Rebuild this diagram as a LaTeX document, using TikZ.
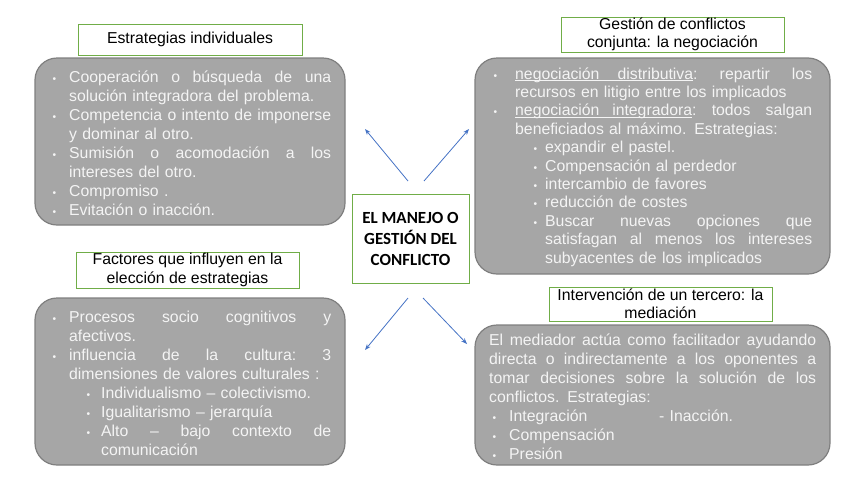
\documentclass[tikz,border=0pt]{standalone}
\usepackage{fontspec}
\setmainfont{Liberation Sans}
\newfontfamily\carl{Carlito}
\usepackage{graphicx}
\usetikzlibrary{arrows.meta}
\definecolor{boxgray}{HTML}{A6A6A6}
\definecolor{boxedge}{HTML}{7F7F7F}
\definecolor{txtlight}{HTML}{F4F4F4}
\definecolor{tgreen}{HTML}{70AD47}
\definecolor{arrowblue}{HTML}{4472C4}
\newcommand\bu[1]{\leavevmode\llap{\scalebox{0.65}{•}\hspace{#1}}}
\newcommand\jl[2]{\makebox[#1][l]{#2}}
\newcommand\ujl[2]{\rlap{\rule[-2.2pt]{#1}{0.8pt}}\makebox[#1][l]{#2}}
\begin{document}
\begin{tikzpicture}[x=1pt,y=-1pt,
 graybox/.style={draw=boxedge, fill=boxgray, line width=1.2pt, rounded corners=22pt, inner sep=0pt},
 titlebox/.style={draw=tgreen, line width=1pt, fill=white, inner sep=0pt, align=center, font=\fontsize{15.8}{18.5}\selectfont},
 bodytext/.style={text=txtlight, inner sep=0pt, anchor=base west, align=left, font=\fontsize{15.8}{19}\selectfont},
 centerbox/.style={draw=tgreen, line width=1pt, fill=white, inner sep=0pt, align=center, font=\carl\bfseries\fontsize{17}{21}\selectfont},
 arr/.style={draw=arrowblue, line width=0.8pt, -{Stealth[length=6pt,width=4.5pt]}}]
\useasboundingbox (0,0) rectangle (848,477);

% gray boxes
\node[graybox, minimum width=310pt, minimum height=167pt] (b1) at (190,141.5) {};
\node[graybox, minimum width=355pt, minimum height=216pt] (b2) at (652.5,166) {};
\node[graybox, minimum width=310pt, minimum height=167pt] (b3) at (190,381.5) {};
\node[graybox, minimum width=355pt, minimum height=140pt] (b4) at (652.5,395) {};

% title boxes
\node[titlebox, minimum width=224pt, minimum height=31pt] (t1) at (190,39.5) {Estrategias individuales};
\node[titlebox, minimum width=223pt, minimum height=35pt] (t2) at (672.5,34.5) {Gestión de conflictos\\conjunta: la negociación};
\node[titlebox, minimum width=223pt, minimum height=36pt] (t3) at (187.5,270) {Factores que influyen en la\\elección de estrategias};
\node[titlebox, minimum width=223pt, minimum height=34pt] (t4) at (660.5,304) {Intervención de un tercero: la\\mediación};

% center
\node[centerbox, minimum width=117pt, minimum height=89pt] (c) at (410.5,238.5) {EL MANEJO O\\GESTIÓN DEL\\CONFLICTO};

% body texts
\node[bodytext, text width=262pt] (x1) at (69,82) {%
\bu{13pt}\jl{262pt}{Cooperación\hfill o\hfill búsqueda\hfill de\hfill una}\\
solución integradora del problema.\\
\bu{13pt}\jl{262pt}{Competencia\hfill o\hfill intento\hfill de\hfill imponerse}\\
y dominar al otro.\\
\bu{13pt}\jl{262pt}{Sumisión\hfill o\hfill acomodación\hfill a\hfill los}\\
intereses del otro.\\
\bu{13pt}Compromiso .\\
\bu{13pt}Evitación o inacción.};

\node[bodytext, text width=297pt, font=\fontsize{15.8}{18.4}\selectfont] (x2) at (515,79) {%
\bu{18pt}\ujl{178pt}{negociación\hfill distributiva}\jl{119pt}{:\hfill repartir\hfill los}\\
recursos en litigio entre los implicados\\
\bu{18pt}\ujl{177pt}{negociación\hfill integradora}\jl{120pt}{:\hfill todos\hfill salgan}\\
beneficiados al máximo. Estrategias:\\
\hspace*{30pt}\bu{8pt}expandir el pastel.\\
\hspace*{30pt}\bu{8pt}Compensación al perdedor\\
\hspace*{30pt}\bu{8pt}intercambio de favores\\
\hspace*{30pt}\bu{8pt}reducción de costes\\
\hspace*{30pt}\bu{8pt}\jl{267pt}{Buscar\hfill nuevas\hfill opciones\hfill que}\\
\hspace*{30pt}\jl{267pt}{satisfagan\hfill al\hfill menos\hfill los\hfill intereses}\\
\hspace*{30pt}subyacentes de los implicados};

\node[bodytext, text width=262pt] (x3) at (69,322) {%
\bu{13pt}\jl{262pt}{Procesos\hfill socio\hfill cognitivos\hfill y}\\
afectivos.\\
\bu{13pt}\jl{262pt}{influencia\hfill de\hfill la\hfill cultura:\hfill 3}\\
dimensiones de valores culturales :\\
\hspace*{32pt}\bu{11pt}Individualismo – colectivismo.\\
\hspace*{32pt}\bu{11pt}Igualitarismo – jerarquía\\
\hspace*{32pt}\bu{11pt}\jl{230pt}{Alto\hfill –\hfill bajo\hfill contexto\hfill de}\\
\hspace*{32pt}comunicación};

\node[bodytext, text width=327pt] (x4) at (489,345) {%
\jl{327pt}{El\hfill mediador\hfill actúa\hfill como\hfill facilitador\hfill ayudando}\\
\jl{327pt}{directa\hfill o\hfill indirectamente\hfill a\hfill los\hfill oponentes\hfill a}\\
\jl{327pt}{tomar\hfill decisiones\hfill sobre\hfill la\hfill solución\hfill de\hfill los}\\
conflictos. Estrategias:\\
\hspace*{20pt}\bu{13pt}\makebox[150pt][l]{Integración}- Inacción.\\
\hspace*{20pt}\bu{13pt}Compensación\\
\hspace*{20pt}\bu{13pt}Presión};

% arrows
\coordinate (a1s) at (408,181); \coordinate (a1e) at (365,129);
\coordinate (a2s) at (424,181); \coordinate (a2e) at (469,129);
\coordinate (a3s) at (408,298); \coordinate (a3e) at (365,350);
\coordinate (a4s) at (423,298); \coordinate (a4e) at (467,344);
\draw[arr] (a1s) -- (a1e);
\draw[arr] (a2s) -- (a2e);
\draw[arr] (a3s) -- (a3e);
\draw[arr] (a4s) -- (a4e);
\end{tikzpicture}
\end{document}
